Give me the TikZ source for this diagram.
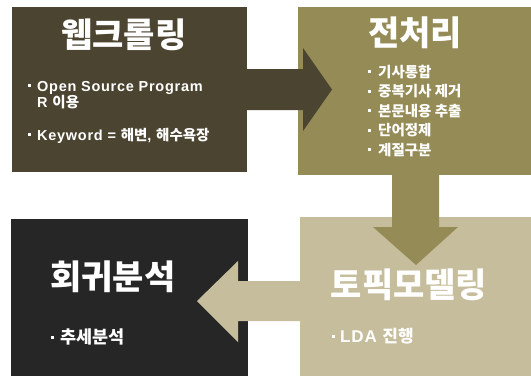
\documentclass[tikz,border=0pt]{standalone}
\usepackage{fontspec}
\setmainfont{Liberation Sans}[LetterSpace=5]
\newfontfamily\kr{Noto Sans CJK KR}
\definecolor{cA}{HTML}{4B4430}
\definecolor{cB}{HTML}{958B56}
\definecolor{cC}{HTML}{262626}
\definecolor{cD}{HTML}{C5BD9B}
\newcommand\bul[1]{\makebox[0pt][r]{\raisebox{3.8pt}{\rule{3.2pt}{3.2pt}}\hspace{#1}}}
\begin{document}
\begin{tikzpicture}[x=1pt,y=-1pt]
\tikzset{
  box/.style={draw=none, inner sep=0pt, outer sep=0pt, anchor=north west},
  ttl/.style={text=white, inner sep=0pt, font=\kr\bfseries\fontsize{34}{34}\selectfont},
  item/.style={text=white, anchor=base west, inner sep=0pt, font=\bfseries\fontsize{14.5}{14.5}\selectfont},
  itemk/.style={item, font=\kr\bfseries\fontsize{14.5}{14.5}\selectfont},
}
\useasboundingbox[fill=white] (0,0) rectangle (531,376);
% boxes
\node[box, fill=cA, minimum width=235pt, minimum height=165pt] (b1) at (12,7) {};
\node[box, fill=cB, minimum width=233pt, minimum height=168pt] (b2) at (298,7) {};
\node[box, fill=cC, minimum width=237pt, minimum height=157pt] (b3) at (11,219) {};
\node[box, fill=cD, minimum width=231pt, minimum height=159pt] (b4) at (300,217) {};
% block arrows
\fill[cA] (246,69) -- (303,69) -- (303,48) -- (332,89.5) -- (303,131) -- (303,110) -- (246,110) -- cycle;
\fill[cB] (392,174) -- (439,174) -- (439,227) -- (458,227) -- (416,265) -- (373,227) -- (392,227) -- cycle;
\fill[cD] (301,281) -- (238,281) -- (238,261) -- (197,301) -- (238,342) -- (238,321) -- (301,321) -- cycle;
% titles
\node[ttl] (t1) at (124,35) {웹크롤링};
\node[ttl] (t2) at (415,33) {전처리};
\node[ttl] (t3) at (113,277) {회귀분석};
\node[ttl] (t4) at (409,285) {토픽모델링};
% box 1 items
\node[item] (a1) at (37,91) {\bul{6pt}Open Source Program};
\node[item] (a2) at (37,107) {R {\kr\bfseries 이용}};
\node[item] (a3) at (37,140) {\bul{6pt}Keyword = {\kr\bfseries 해변}, {\kr\bfseries 해수욕장}};
% box 2 items
\node[itemk] (p1) at (378,77) {\bul{7pt}기사통합};
\node[itemk] (p2) at (378,96.5) {\bul{7pt}중복기사 제거};
\node[itemk] (p3) at (378,116) {\bul{7pt}본문내용 추출};
\node[itemk] (p4) at (378,135.5) {\bul{7pt}단어정제};
\node[itemk] (p5) at (378,155) {\bul{7pt}계절구분};
% box 3 / 4 items
\node[item, font=\kr\bfseries\fontsize{17.5}{17.5}\selectfont] (r1) at (60,343) {\bul{6.5pt}추세분석};
\node[item, font=\bfseries\fontsize{17}{17}\selectfont] (m1) at (340,342) {\bul{5pt}LDA {\kr\bfseries 진행}};
\end{tikzpicture}
\end{document}
